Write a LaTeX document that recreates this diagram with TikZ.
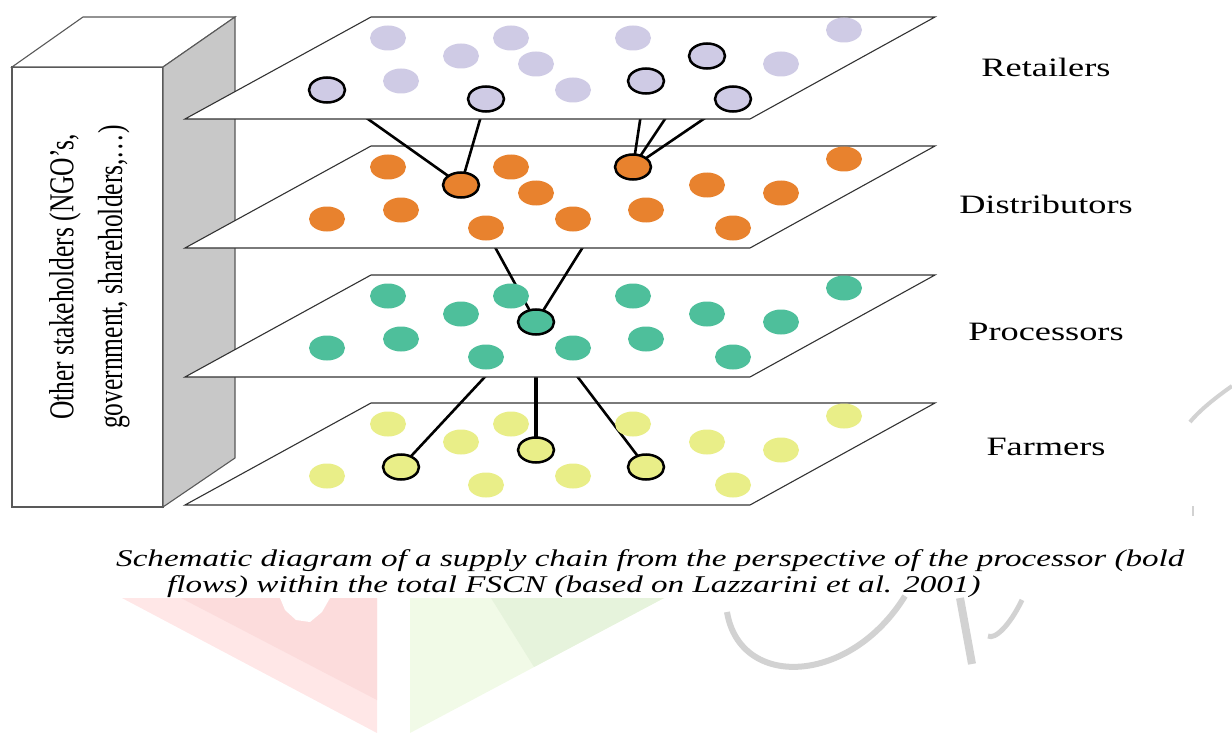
\documentclass[tikz,border=0pt]{standalone}
\usepackage{fontspec}
\setmainfont{Liberation Serif}
\usepackage{graphicx}
\usetikzlibrary{shapes.geometric}

\definecolor{lav}{HTML}{CFCBE5}
\definecolor{org}{HTML}{E8822E}
\definecolor{teal}{HTML}{4EBF9B}
\definecolor{yel}{HTML}{E9EE88}
\definecolor{boxgrey}{HTML}{C8C8C8}
\definecolor{wmpink}{HTML}{FFE7E7}
\definecolor{wmpinkd}{HTML}{FCDCDC}
\definecolor{wmgreen}{HTML}{F1FAE7}
\definecolor{wmgreend}{HTML}{E6F3DC}
\definecolor{wmgrey}{HTML}{D2D2D2}

% stretched text, as in the scanned figure
\newcommand{\wide}[2][1.37]{\scalebox{#1}[1]{#2}}
% one level of the chain, #1 = y of its back edge
\newcommand{\plane}[1]{\draw[sheet] (185,{#1+102}) -- (750,{#1+102}) -- (935,#1) -- (371,#1) -- cycle;}

\tikzset{
  sheet/.style={draw=black!80, line width=1.1pt, fill=white},
  box/.style={draw=black!65, line width=1.1pt},
  dot/.style={ellipse, minimum width=36pt, minimum height=25pt, inner sep=0pt},
  picked/.style={draw=black, line width=2.5pt},
  flow/.style={line width=2.6pt},
  lbl/.style={font=\fontsize{26.5}{30}\selectfont},
  capline/.style={font=\fontsize{24}{26}\selectfont\itshape, inner sep=0pt, anchor=base west},
}

\begin{document}
\begin{tikzpicture}[x=1pt, y=-1pt]
\useasboundingbox (0,0) rectangle (1232,733);

% watermark
\fill[wmpink] (122,598) -- (377,598) -- (377,733) -- cycle;
\fill[wmpinkd] (181,598) -- (377,598) -- (377,700) -- cycle;
\fill[white] (280,598) -- (330,598) -- (322,612) -- (310,622) -- (296,620) -- (285,610) -- cycle;
\fill[wmgreen] (410,598) -- (664,598) -- (410,733) -- cycle;
\fill[wmgreend] (491,598) -- (664,598) -- (534,667) -- cycle;
\draw[wmgrey, line width=6pt] (727,612) .. controls (740,690) and (850,685) .. (905,596);
\draw[wmgrey, line width=8pt] (960,598) -- (972,664);
\draw[wmgrey, line width=5pt] (1022,600) .. controls (1010,625) and (995,640) .. (988,636);
\draw[wmgrey, line width=4pt] (1232,386) .. controls (1215,398) and (1200,410) .. (1190,422);
\draw[wmgrey, line width=2pt] (1193,506) -- (1193,516);

% dot positions, same on every level
\foreach \lv/\top in {R/17, D/146, P/275, F/403}{
  \foreach \n/\x/\y in {1/388/21, 2/511/21, 3/633/21, 4/461/39, 5/536/47, 6/707/39, 7/781/47,
                        8/401/64, 9/646/64, 10/327/73, 11/573/73, 12/486/82, 13/733/82, 14/844/13}{
    \coordinate (\lv\n) at (\x,\top+\y);
  }
}

% other stakeholders
\draw[box, fill=white] (12,67) rectangle (163,507);
\draw[box, fill=white] (12,67) -- (83,17) -- (235,17) -- (163,67) -- cycle;
\draw[box, fill=boxgrey] (163,67) -- (235,17) -- (235,458) -- (163,507) -- cycle;
\node[font=\fontsize{25.5}{35.5}\selectfont] (others) at (88,277)
  {\wide{\rotatebox{90}{\begin{tabular}{@{}c@{}}Other stakeholders (NGO’s,\\ government, shareholders,\ldots)\end{tabular}}}};

% farmers
\plane{403}
\draw[flow] (F8) -- (P5);
\draw[flow, line width=3.4pt] (F5) -- (P5);
\draw[flow] (F9) -- (P5);
\foreach \n in {1,2,3,4,6,7,10,11,12,13,14}
  \node[dot, fill=yel] (f\n) at (F\n) {};
\foreach \n in {5,8,9}
  \node[dot, picked, fill=yel] (f\n) at (F\n) {};

% processors
\plane{275}
\draw[flow] (P5) -- (D4);
\draw[flow] (P5) -- (D3);
\foreach \n in {1,2,3,4,6,7,8,9,10,11,12,13,14}
  \node[dot, fill=teal] (p\n) at (P\n) {};
\node[dot, picked, fill=teal] (p5) at (P5) {};

% distributors
\plane{146}
\draw[flow] (D4) -- (R10);
\draw[flow] (D4) -- (R12);
\draw[flow] (D3) -- (R9);
\draw[flow] (D3) -- (R6);
\draw[flow] (D3) -- (R13);
\foreach \n in {1,2,5,6,7,8,9,10,11,12,13,14}
  \node[dot, fill=org] (d\n) at (D\n) {};
\foreach \n in {3,4}
  \node[dot, picked, fill=org] (d\n) at (D\n) {};

% retailers
\plane{17}
\foreach \n in {1,2,3,4,5,7,8,11,14}
  \node[dot, fill=lav] (r\n) at (R\n) {};
\foreach \n in {6,9,10,12,13}
  \node[dot, picked, fill=lav] (r\n) at (R\n) {};

% level names
\node[lbl] (retail) at (1046,67) {\wide{Retailers}};
\node[lbl] (distrib) at (1046,204) {\wide{Distributors}};
\node[lbl] (process) at (1046,332) {\wide{Processors}};
\node[lbl] (farm) at (1046,447) {\wide{Farmers}};

% caption
\node[capline] (cap1) at (116,566) {\wide[1.38]{Schematic diagram of a supply chain from the perspective of the processor (bold}};
\node[capline] (cap2) at (167,592) {\wide[1.38]{flows) within the total FSCN (based on Lazzarini et al. 2001)}};
\end{tikzpicture}
\end{document}
